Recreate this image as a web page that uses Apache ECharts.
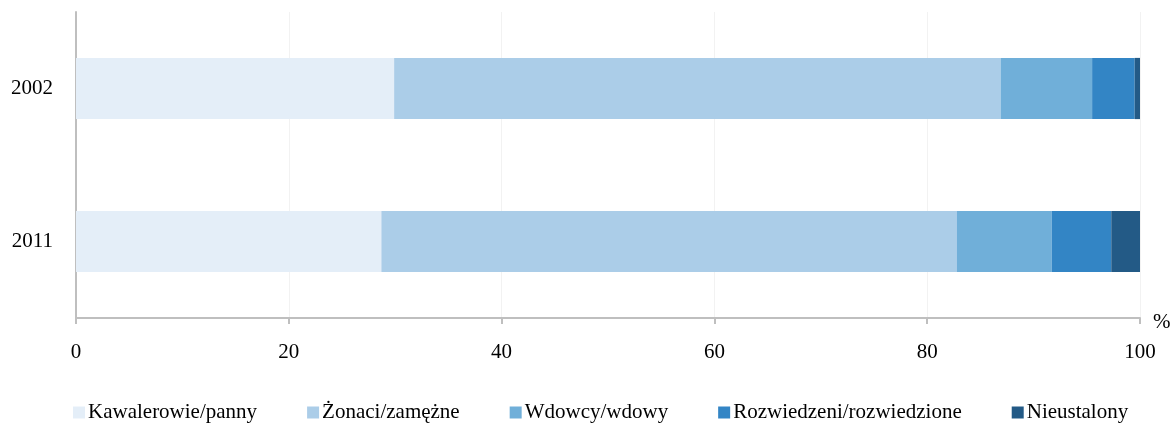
<!DOCTYPE html>
<html>
<head>
<meta charset="utf-8">
<script src="https://cdn.jsdelivr.net/npm/echarts@6/dist/echarts.min.js"></script>
<style>
  html, body { margin: 0; padding: 0; background: #fff; }
</style>
</head>
<body>
<div id="main" style="width: 1174px; height: 425px"></div>
<script>
var years = ["2002", "2011"];
var kawalerowie = [29.9, 28.7];
var zonaci = [57.0, 54.1];
var wdowcy = [8.6, 8.9];
var rozwiedzeni = [4.0, 5.6];
var nieustalony = [0.5, 2.7];
var xTicks = [0, 20, 40, 60, 80, 100];

var font = "'Liberation Serif', 'Times New Roman', serif";
var colors = ["#e4eef8", "#abcde8", "#70afd9", "#3385c5", "#235a86"];

var myChart = echarts.init(document.getElementById("main"));

function bar(name, data) {
  return {
    name: name,
    type: "bar",
    stack: "all",
    barWidth: "40%",
    data: data,
  };
}

var option = {
  animation: false,
  color: colors,
  textStyle: { fontFamily: font },
  grid: {
    left: 76,
    right: 34,
    top: 12,
    bottom: 107,
  },
  legend: {
    left: 68,
    top: 397,
    itemWidth: 12,
    itemHeight: 12,
    itemGap: 50,
    icon: "rect",
    textStyle: { fontFamily: font, fontSize: 21, color: "#000", padding: [0, 0, 0, -2] },
    data: ["Kawalerowie/panny", "Żonaci/zamężne", "Wdowcy/wdowy", "Rozwiedzeni/rozwiedzione", "Nieustalony"],
  },
  xAxis: {
    type: "value",
    min: xTicks[0],
    max: xTicks[xTicks.length - 1],
    interval: 20,
    name: "%",
    nameLocation: "end",
    nameGap: 13,
    nameTextStyle: { fontFamily: font, fontSize: 21, color: "#000", verticalAlign: "top", padding: [-6, 0, 0, 0] },
    axisLine: { show: true, lineStyle: { color: "#bfbfbf", width: 2 } },
    axisTick: { show: true, length: 6, lineStyle: { color: "#bfbfbf", width: 2 } },
    axisLabel: { margin: 24, fontFamily: font, fontSize: 21, color: "#000" },
    splitLine: { show: true, lineStyle: { color: "#f2f2f2", width: 1 } },
  },
  yAxis: {
    type: "category",
    inverse: true,
    data: years,
    axisLine: { show: true, lineStyle: { color: "#bfbfbf", width: 2 } },
    axisTick: { show: false },
    axisLabel: { margin: 23, fontFamily: font, fontSize: 21, color: "#000" },
  },
  series: [
    bar("Kawalerowie/panny", kawalerowie),
    bar("Żonaci/zamężne", zonaci),
    bar("Wdowcy/wdowy", wdowcy),
    bar("Rozwiedzeni/rozwiedzione", rozwiedzeni),
    bar("Nieustalony", nieustalony),
  ],
};

option && myChart.setOption(option);
</script>
</body>
</html>
